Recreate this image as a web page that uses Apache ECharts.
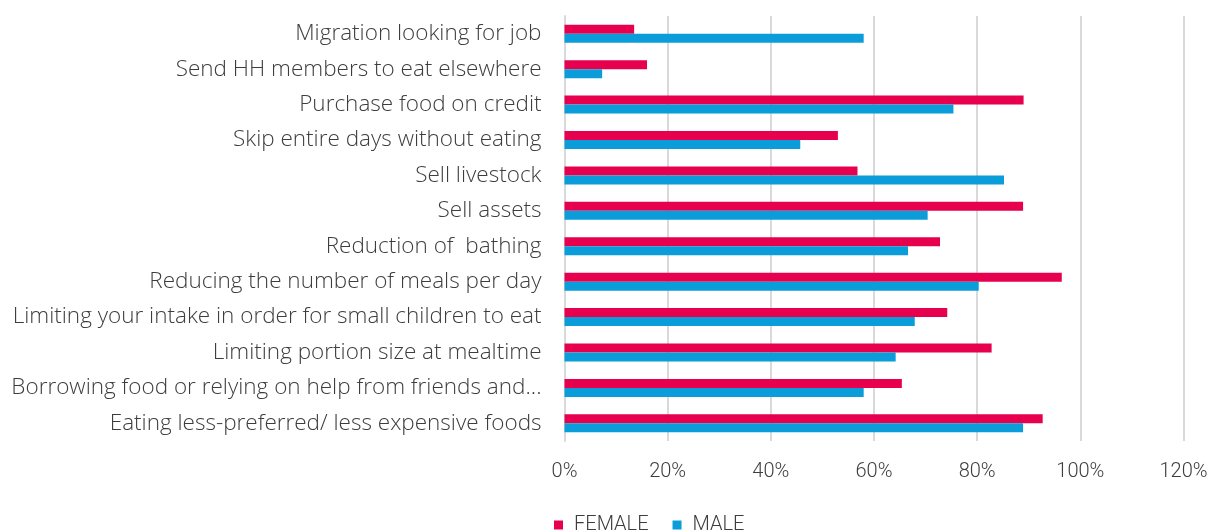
<!DOCTYPE html>
<html>
<head>
<meta charset="utf-8">
<script src="https://cdn.jsdelivr.net/npm/echarts@6/dist/echarts.min.js"></script>
<style>
  html, body { margin: 0; padding: 0; background: #fff; }
  #chart { width: 1214px; height: 532px; }
</style>
</head>
<body>
<div id="chart"></div>
<script>
// Coping strategies, share of households by sex of head (percent)
const categories = [
  "Migration looking for job",
  "Send HH members to eat elsewhere",
  "Purchase food on credit",
  "Skip entire days without eating",
  "Sell livestock",
  "Sell assets",
  "Reduction of  bathing",
  "Reducing the number of meals per day",
  "Limiting your intake in order for small children to eat",
  "Limiting portion size at mealtime",
  "Borrowing food or relying on help from friends and...",
  "Eating less-preferred/ less expensive foods"
];
const femaleValues = [13.5, 16.0, 89.0, 53.0, 56.8, 88.9, 72.8, 96.4, 74.2, 82.8, 65.4, 92.7];
const maleValues   = [58.0, 7.3, 75.4, 45.7, 85.2, 70.4, 66.6, 80.3, 67.9, 64.2, 58.0, 88.9];
const seriesNames = ["FEMALE", "MALE"];
const axisMin = 0, axisMax = 120, axisStep = 20;

const TEXT = "#3d3d3d";

const chart = echarts.init(document.getElementById("chart"), null, { renderer: "canvas" });
chart.setOption({
  animation: false,
  color: ["#E6004E", "#0B9DD9"],
  grid: { left: 564.5, right: 30.5, top: 16, bottom: 91, containLabel: false },
  legend: {
    data: seriesNames,
    left: 549,
    top: 510,
    itemWidth: 9,
    itemHeight: 9,
    itemGap: 24,
    icon: "rect",
    textStyle: { fontFamily: "Roboto", fontWeight: 300, fontSize: 20, color: TEXT, padding: [0, 0, 0, 6] }
  },
  xAxis: {
    type: "value",
    min: axisMin,
    max: axisMax,
    interval: axisStep,
    axisLine: { show: false },
    axisTick: { show: false },
    splitLine: { show: true, lineStyle: { color: "#d9d9d9", width: 2 } },
    axisLabel: {
      formatter: "{value}%",
      margin: 21,
      fontFamily: "Roboto", fontWeight: 300, fontSize: 20, color: TEXT
    }
  },
  yAxis: {
    type: "category",
    data: categories,
    inverse: true,
    axisLine: { show: true, lineStyle: { color: "#d9d9d9", width: 2 } },
    axisTick: { show: false },
    axisLabel: {
      margin: 23,
      fontFamily: "Open Sans", fontWeight: 300, fontSize: 22.5, color: TEXT,
      padding: [3, 0, 0, 0]
    }
  },
  series: [
    { name: seriesNames[0], type: "bar", data: femaleValues, barWidth: 9, barGap: "0%" },
    { name: seriesNames[1], type: "bar", data: maleValues, barWidth: 9, barGap: "0%" }
  ]
});
</script>
</body>
</html>
